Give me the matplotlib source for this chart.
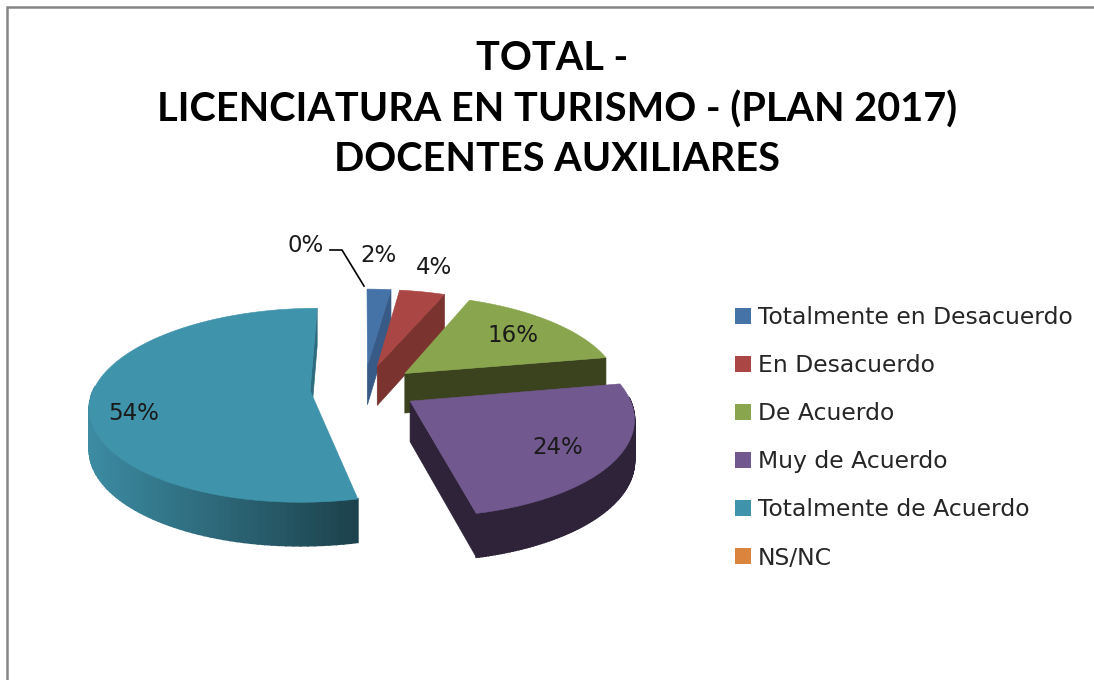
import numpy as np
import matplotlib
matplotlib.use('Agg')
import matplotlib.pyplot as plt
from matplotlib.colors import to_rgb
from matplotlib.patches import Patch, Polygon

categories = ['Totalmente en Desacuerdo', 'En Desacuerdo', 'De Acuerdo',
              'Muy de Acuerdo', 'Totalmente de Acuerdo', 'NS/NC']
values = [2.1, 4.0, 16.0, 24.3, 53.6, 0.0]
title = 'TOTAL - \nLICENCIATURA EN TURISMO - (PLAN 2017)\nDOCENTES AUXILIARES'

top_colors = ['#4572a7', '#aa4643', '#89a54e', '#71588f', '#3f93ab', '#db843d']
cut_colors = ['#375a86', '#7b3330', '#3a431e', '#2e2338', '#2c6c7e', '#a8652e']

# pie geometry, in pixels of the 1094x680 picture
CX, CY = 364, 388
RX, RY = 216, 94
PERSP = 0.15
EXPLODE = 0.25
DEPTH = 40

# label centres (px), same order as values
label_pos = [(379, 256), (434, 267), (513, 335), (558, 448), (134, 413), (306, 245)]


def project(u, v):
    s = 1.0 / (1.0 + PERSP * v)
    return CX + RX * u * s, CY - RY * v * s, DEPTH * np.sqrt(s)


def slice_points(start, end):
    mid = (start + end) / 2
    ou, ov = EXPLODE * np.sin(mid), EXPLODE * np.cos(mid)
    t = np.linspace(start, end, 120)
    tip = project(ou, ov)
    rim = project(ou + np.sin(t), ov + np.cos(t))
    return t, tip, rim


fig = plt.figure(figsize=(10.94, 6.80), dpi=100)
ax = fig.add_axes([0, 0, 1, 1])
ax.set_xlim(0, 1094)
ax.set_ylim(680, 0)
ax.axis('off')

# window frame, only top and left show
ax.plot([6.5, 6.5, 1094], [680, 7, 7], color='#868686', lw=1.8, solid_joinstyle='miter')

fractions = np.array(values) / sum(values)
edges = np.concatenate([[0], np.cumsum(fractions)]) * 2 * np.pi

# far slices first, purple has to land over the green cut face
for i in [0, 1, 2, 4, 3]:
    t, tip, rim = slice_points(edges[i], edges[i + 1])
    x, y, d = rim

    # cut face at the end of the slice
    cut = [(tip[0], tip[1]), (x[-1], y[-1]), (x[-1], y[-1] + d[-1]), (tip[0], tip[1] + tip[2])]
    ax.add_patch(Polygon(cut, closed=True, fc=cut_colors[i], ec=cut_colors[i], lw=0.5))

    # outer wall, front half only
    front = np.where(np.cos(t) < 0.05)[0]
    if len(front) > 1:
        base = np.array(to_rgb(top_colors[i]))
        for a, b in zip(front[:-1], front[1:]):
            if i == 4:
                k = (x[a] - x.min()) / (x[front].max() - x.min())
                col = base * (0.95 - 0.5 * k)
            else:
                col = np.array(to_rgb(cut_colors[i]))
            quad = [(x[a], y[a]), (x[b], y[b]), (x[b], y[b] + d[b]), (x[a], y[a] + d[a])]
            ax.add_patch(Polygon(quad, closed=True, fc=col, ec=col, lw=1.2))

    outline = [(tip[0], tip[1])] + list(zip(x, y))
    ax.add_patch(Polygon(outline, closed=True, fc=top_colors[i], ec=top_colors[i], lw=0.4))

for v, (lx, ly) in zip(values, label_pos):
    ax.text(lx, ly, f'{v:.0f}%', ha='center', va='center', fontsize=16.5, color='#1a1a1a',
            family='DejaVu Sans')

# leader line of the 0% label
ax.plot([330, 342, 364], [250, 250, 286], color='black', lw=1.2)

ax.text(557, 109, title, ha='center', va='center', fontsize=28.5, fontweight='bold',
        family='Lato', color='black', linespacing=1.43)

handles = [Patch(fc=c, ec='none') for c in top_colors]
ax.legend(handles, categories, loc='upper left', bbox_to_anchor=(735 / 1094, 1 - 306 / 680),
          frameon=False, fontsize=16.9, handlelength=0.68, handleheight=0.68, handletextpad=0.3,
          labelspacing=1.07, borderpad=0, borderaxespad=0, labelcolor='#262626')

fig.savefig('out.png', dpi=100)
